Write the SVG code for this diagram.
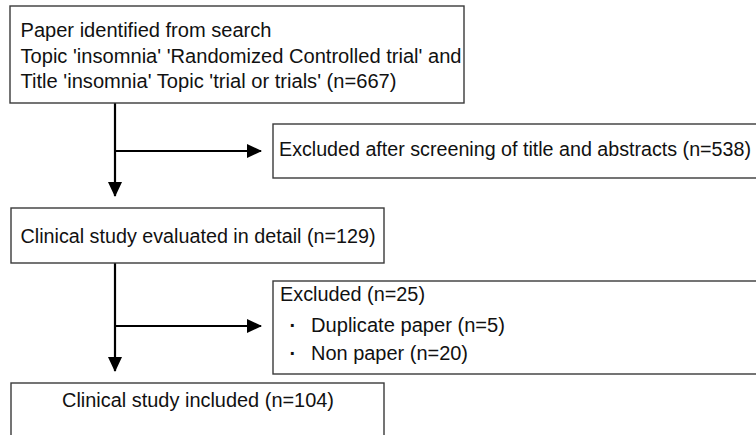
<svg xmlns="http://www.w3.org/2000/svg" width="756" height="435" viewBox="0 0 756 435">
<defs>
<style>
.box{fill:#fff;stroke:#3a3a3a;stroke-width:1.4}
.t{font-family:"Liberation Sans",Arial,sans-serif;font-size:20px;fill:#111}
.b{font-family:"Liberation Sans",Arial,sans-serif;font-size:20px;font-weight:bold;fill:#111}
.c{stroke:#000;stroke-width:2.2;fill:none}
</style>
<marker id="ah" markerWidth="15" markerHeight="14" refX="14" refY="7" orient="auto" markerUnits="userSpaceOnUse">
<path d="M0,0 L15,7 L0,14 Z" fill="#000"/>
</marker>
</defs>
<rect width="756" height="435" fill="#fff"/>
<g id="connectors">
<line class="c" x1="115" y1="103" x2="115" y2="196" marker-end="url(#ah)"/>
<line class="c" x1="115" y1="151" x2="261" y2="151" marker-end="url(#ah)"/>
<line class="c" x1="115" y1="263" x2="115" y2="371" marker-end="url(#ah)"/>
<line class="c" x1="115" y1="326" x2="261" y2="326" marker-end="url(#ah)"/>
</g>
<g id="n1">
<rect class="box" x="10" y="6" width="454" height="97"/>
<text class="t" x="20.5" y="37" textLength="251" lengthAdjust="spacingAndGlyphs">Paper identified from search</text>
<text class="t" x="20.5" y="62.5" textLength="441" lengthAdjust="spacingAndGlyphs">Topic 'insomnia' 'Randomized Controlled trial' and</text>
<text class="t" x="20.5" y="88" textLength="376" lengthAdjust="spacingAndGlyphs">Title 'insomnia' Topic 'trial or trials' (n=667)</text>
</g>
<g id="n2">
<rect class="box" x="273" y="124" width="500" height="54"/>
<text class="t" x="279" y="156" textLength="472" lengthAdjust="spacingAndGlyphs">Excluded after screening of title and abstracts (n=538)</text>
</g>
<g id="n3">
<rect class="box" x="11" y="208" width="373" height="55"/>
<text class="t" x="20.5" y="243" textLength="355" lengthAdjust="spacingAndGlyphs">Clinical study evaluated in detail (n=129)</text>
</g>
<g id="n4">
<rect class="box" x="273" y="281" width="500" height="93"/>
<text class="t" x="280" y="301" textLength="145" lengthAdjust="spacingAndGlyphs">Excluded (n=25)</text>
<text class="b" x="289.5" y="332">·</text>
<text class="t" x="311" y="332" textLength="194" lengthAdjust="spacingAndGlyphs">Duplicate paper (n=5)</text>
<text class="b" x="289.5" y="360">·</text>
<text class="t" x="311" y="360" textLength="157" lengthAdjust="spacingAndGlyphs">Non paper (n=20)</text>
</g>
<g id="n5">
<rect class="box" x="11" y="383" width="373" height="70"/>
<text class="t" x="62" y="407" textLength="272" lengthAdjust="spacingAndGlyphs">Clinical study included (n=104)</text>
</g>
</svg>
